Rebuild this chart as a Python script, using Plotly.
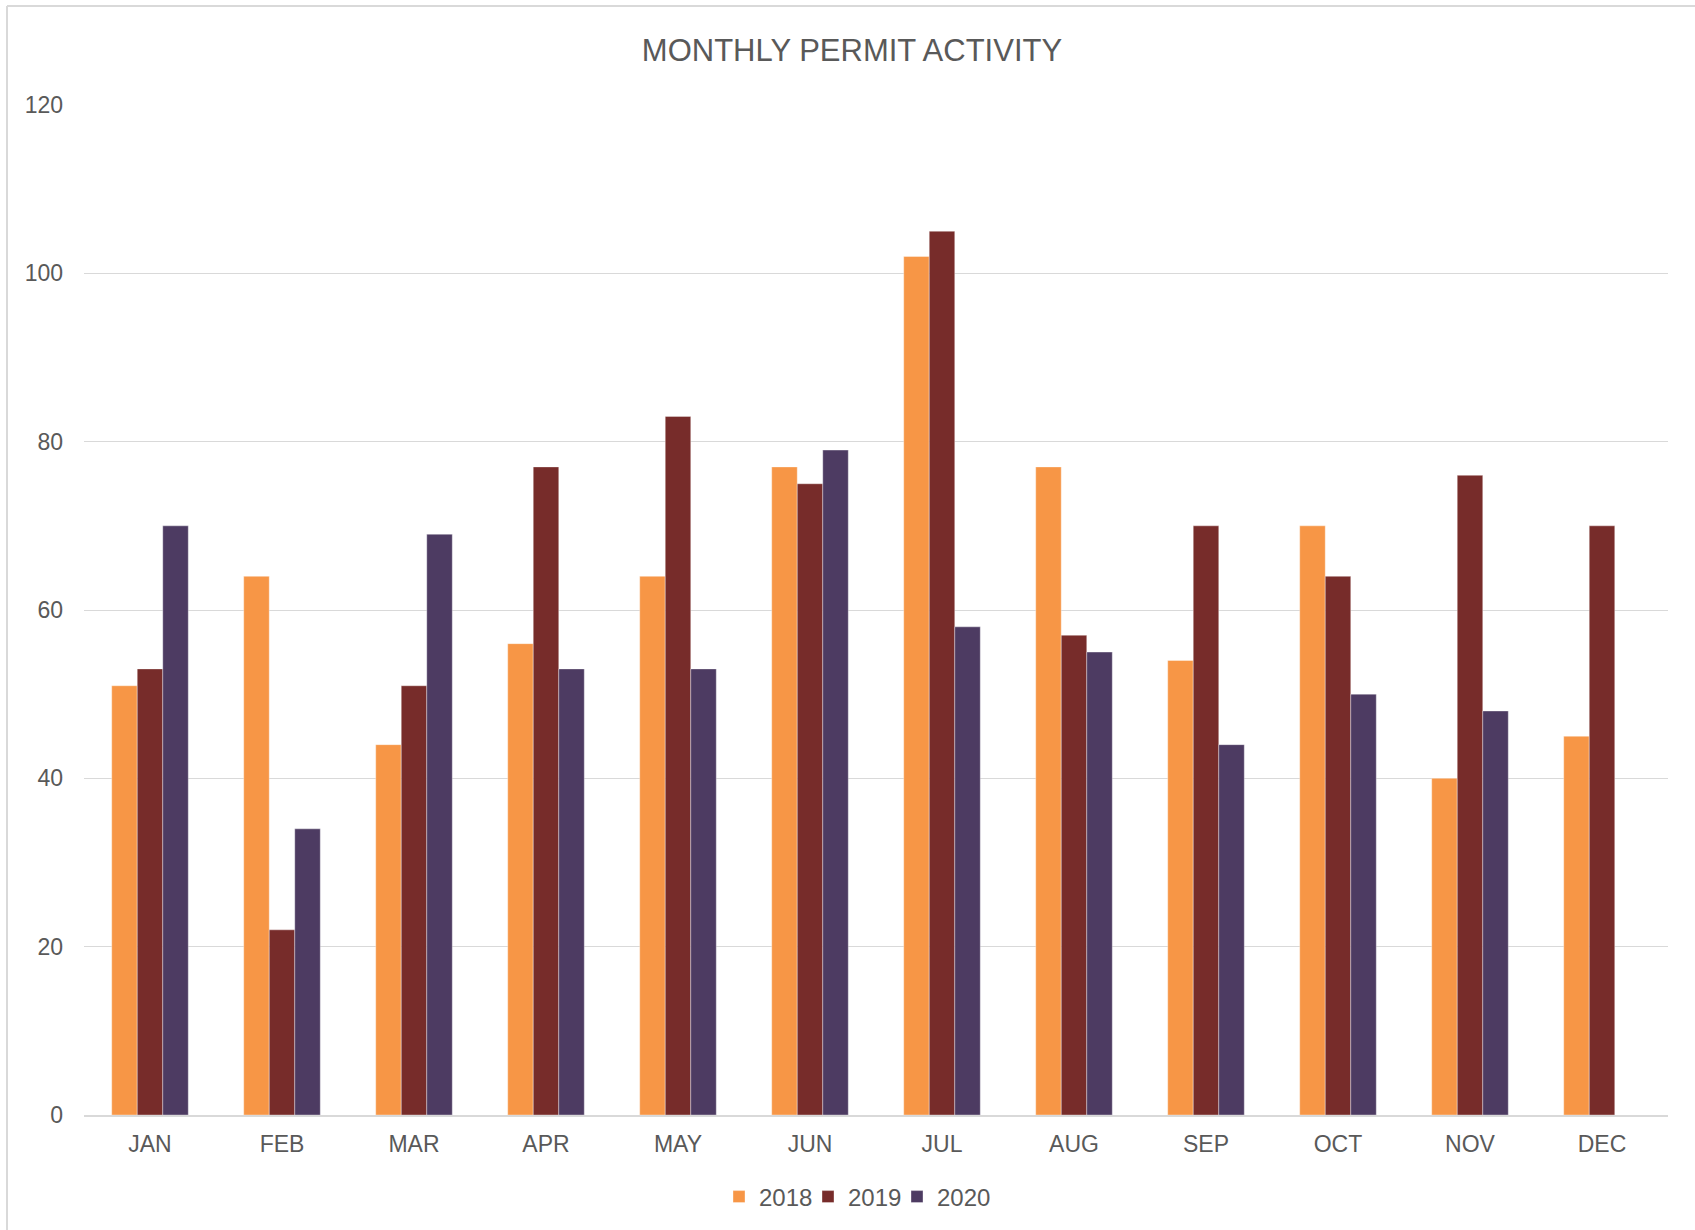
import plotly.graph_objects as go

months = ["JAN", "FEB", "MAR", "APR", "MAY", "JUN", "JUL", "AUG", "SEP", "OCT", "NOV", "DEC"]
s2018 = [51, 64, 44, 56, 64, 77, 102, 77, 54, 70, 40, 45]
s2019 = [53, 22, 51, 77, 83, 75, 105, 57, 70, 64, 76, 70]
s2020 = [70, 34, 69, 53, 53, 79, 58, 55, 44, 50, 48, None]
series_names = ["2018", "2019", "2020"]
colors = ["#F79646", "#772C2A", "#4D3B62"]
y_ticks = [0, 20, 40, 60, 80, 100, 120]

W, H = 1695, 1230
ml, mr, mt, mb = 84, 27, 105, 114
pw = W - ml - mr
ph = H - mt - mb

fig = go.Figure()
for name, vals, col in zip(series_names, [s2018, s2019, s2020], colors):
    fig.add_trace(go.Bar(
        x=months, y=vals, name=name,
        marker=dict(color=col, line=dict(color="rgba(255,255,255,0.45)", width=0.8)),
    ))
# invisible spacer entry so the last legend label is not clipped
fig.add_trace(go.Scatter(x=[None], y=[None], name=" ", mode="markers",
                         marker=dict(color="rgba(0,0,0,0)"), hoverinfo="skip"))

font_family = "Liberation Sans, Arial, sans-serif"
fig.update_layout(
    width=W, height=H,
    margin=dict(l=ml, r=mr, t=mt, b=mb, pad=0),
    paper_bgcolor="white", plot_bgcolor="white",
    barmode="group", bargap=0.42, bargroupgap=0,
    title=dict(text="MONTHLY PERMIT ACTIVITY", x=(852 - ml) / pw, xref="paper",
               xanchor="center", y=1 - 50 / H, yanchor="middle",
               font=dict(family=font_family, size=31, color="#595959")),
    font=dict(family=font_family, size=23, color="#595959"),
    xaxis=dict(showgrid=False, showline=True, linecolor="#D9D9D9", linewidth=1.5,
               ticks="", tickfont=dict(size=23, color="#595959"), ticklabelstandoff=8),
    yaxis=dict(range=[0, 120], tickvals=y_ticks, showgrid=True, gridcolor="#D9D9D9",
               gridwidth=1.2, zeroline=False, showline=False, ticks="",
               tickfont=dict(size=23, color="#595959"), ticklabelstandoff=20),
    legend=dict(orientation="h", x=(897 - ml) / pw, xanchor="center",
                y=(1116 - 1197) / ph, yanchor="middle",
                font=dict(size=24, color="#595959"), itemwidth=30,
                entrywidth=44, entrywidthmode="pixels",
                traceorder="normal"),
    showlegend=True,
)

# chart border (top and left edges visible in the reference)
fig.add_shape(type="line", xref="paper", yref="paper",
              x0=(7 - ml) / pw, x1=(W + 5 - ml) / pw,
              y0=(H - mb - 6) / ph, y1=(H - mb - 6) / ph,
              line=dict(color="#D9D9D9", width=2))
fig.add_shape(type="line", xref="paper", yref="paper",
              x0=(7 - ml) / pw, x1=(7 - ml) / pw,
              y0=(H - mb - 6) / ph, y1=(H - mb - H - 5) / ph,
              line=dict(color="#D9D9D9", width=2))

fig.write_html("out.html", config={"displayModeBar": False},
               post_script="document.body.style.margin='0px';document.body.style.overflow='hidden';")
